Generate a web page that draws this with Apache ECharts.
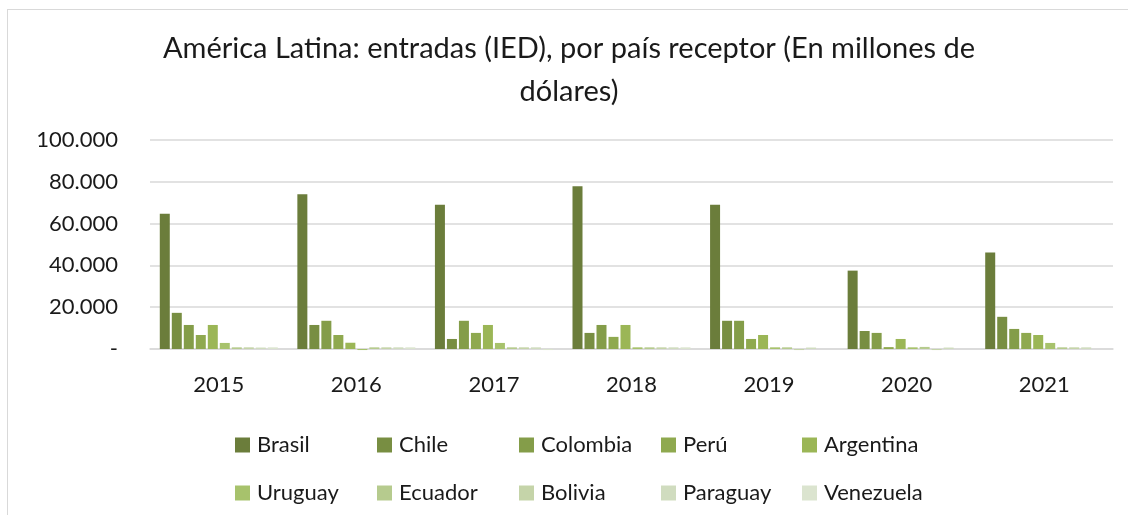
<!DOCTYPE html>
<html>
<head>
<meta charset="utf-8">
<script src="https://cdn.jsdelivr.net/npm/echarts@6/dist/echarts.min.js"></script>
<style>
  html, body { margin: 0; padding: 0; background: #fff; }
  #frame { position: absolute; left: 7px; top: 9px; width: 1140px; height: 540px; border: 1px solid #d9d9d9; box-sizing: border-box; }
  #chart { position: absolute; left: 0; top: 0; width: 1128px; height: 515px; }
</style>
</head>
<body>
<div id="frame"></div>
<div id="chart"></div>
<script>
// years on the x axis
const years = ["2015", "2016", "2017", "2018", "2019", "2020", "2021"];

const countries = ["Brasil", "Chile", "Colombia", "Perú", "Argentina",
  "Uruguay", "Ecuador", "Bolivia", "Paraguay", "Venezuela"];

// millions of dollars
const brasil = [64700, 74000, 69000, 77900, 69000, 37500, 46200];
const chile = [17300, 11500, 4800, 7700, 13500, 8600, 15400];
const colombia = [11500, 13500, 13500, 11500, 13500, 7700, 9600];
const peru = [6700, 6700, 7700, 5800, 4800, 900, 7700];
const argentina = [11500, 3000, 11500, 11500, 6700, 4800, 6700];
const uruguay = [2900, -500, 2900, 800, 800, 800, 2900];
const ecuador = [800, 800, 800, 800, 800, 1000, 800];
const bolivia = [800, 800, 800, 800, -500, -500, 800];
const paraguay = [700, 800, 800, 800, 700, 700, 800];
const venezuela = [800, 800, -500, 800, 0, 0, 0];

const yTicks = { min: 0, max: 100000, step: 20000 };

const colors = ["#6b7d3b", "#788e42", "#849d49", "#8fa94f", "#9bb656",
  "#a7c26c", "#b6cb8e", "#c5d4a9", "#d0dcbf", "#dbe4cf"];

const values = [brasil, chile, colombia, peru, argentina,
  uruguay, ecuador, bolivia, paraguay, venezuela];

const font = "Lato";

function fmt(v) {
  if (v === 0) return "-";
  return String(v).replace(/\B(?=(\d{3})+(?!\d))/g, ".");
}

// legend: one small legend per entry so the two rows line up in columns
const legendCols = [230, 372, 514, 656, 797];
const legendRows = [429, 477];
const legends = countries.map((name, i) => ({
  left: legendCols[i % 5],
  top: legendRows[Math.floor(i / 5)],
  itemWidth: 15,
  itemHeight: 15,
  icon: "rect",
  selectedMode: false,
  data: [name],
  textStyle: { fontFamily: font, fontSize: 22, lineHeight: 22, color: "#1a1a1a", padding: [0, 0, 0, 2] },
}));

const chart = echarts.init(document.getElementById("chart"), null, { renderer: "canvas" });

chart.setOption({
  animation: false,
  color: colors,
  title: {
    text: "América Latina: entradas (IED), por país receptor (En millones de\ndólares)",
    left: 564,
    top: 22,
    textAlign: "center",
    textStyle: { fontFamily: font, fontSize: 29, fontWeight: "normal", lineHeight: 43, color: "#1a1a1a" },
  },
  legend: legends,
  grid: { left: 150, right: 15, top: 140, bottom: 166, containLabel: false },
  xAxis: {
    type: "category",
    data: years,
    axisLine: { lineStyle: { color: "#d9d9d9", width: 1.5 } },
    axisTick: { show: false },
    axisLabel: { fontFamily: font, fontSize: 22, color: "#1a1a1a", margin: 25 },
  },
  yAxis: {
    type: "value",
    min: yTicks.min,
    max: yTicks.max,
    interval: yTicks.step,
    axisLine: { show: false },
    axisTick: { show: false },
    splitLine: { lineStyle: { color: "#d9d9d9", width: 1.5 } },
    axisLabel: { fontFamily: font, fontSize: 22, color: "#1a1a1a", margin: 32, formatter: fmt },
  },
  series: countries.map((name, i) => ({
    name: name,
    type: "bar",
    data: values[i],
    barWidth: 10,
    barGap: "20%",
    clip: false,
    itemStyle: { color: colors[i] },
  })),
});
</script>
</body>
</html>
